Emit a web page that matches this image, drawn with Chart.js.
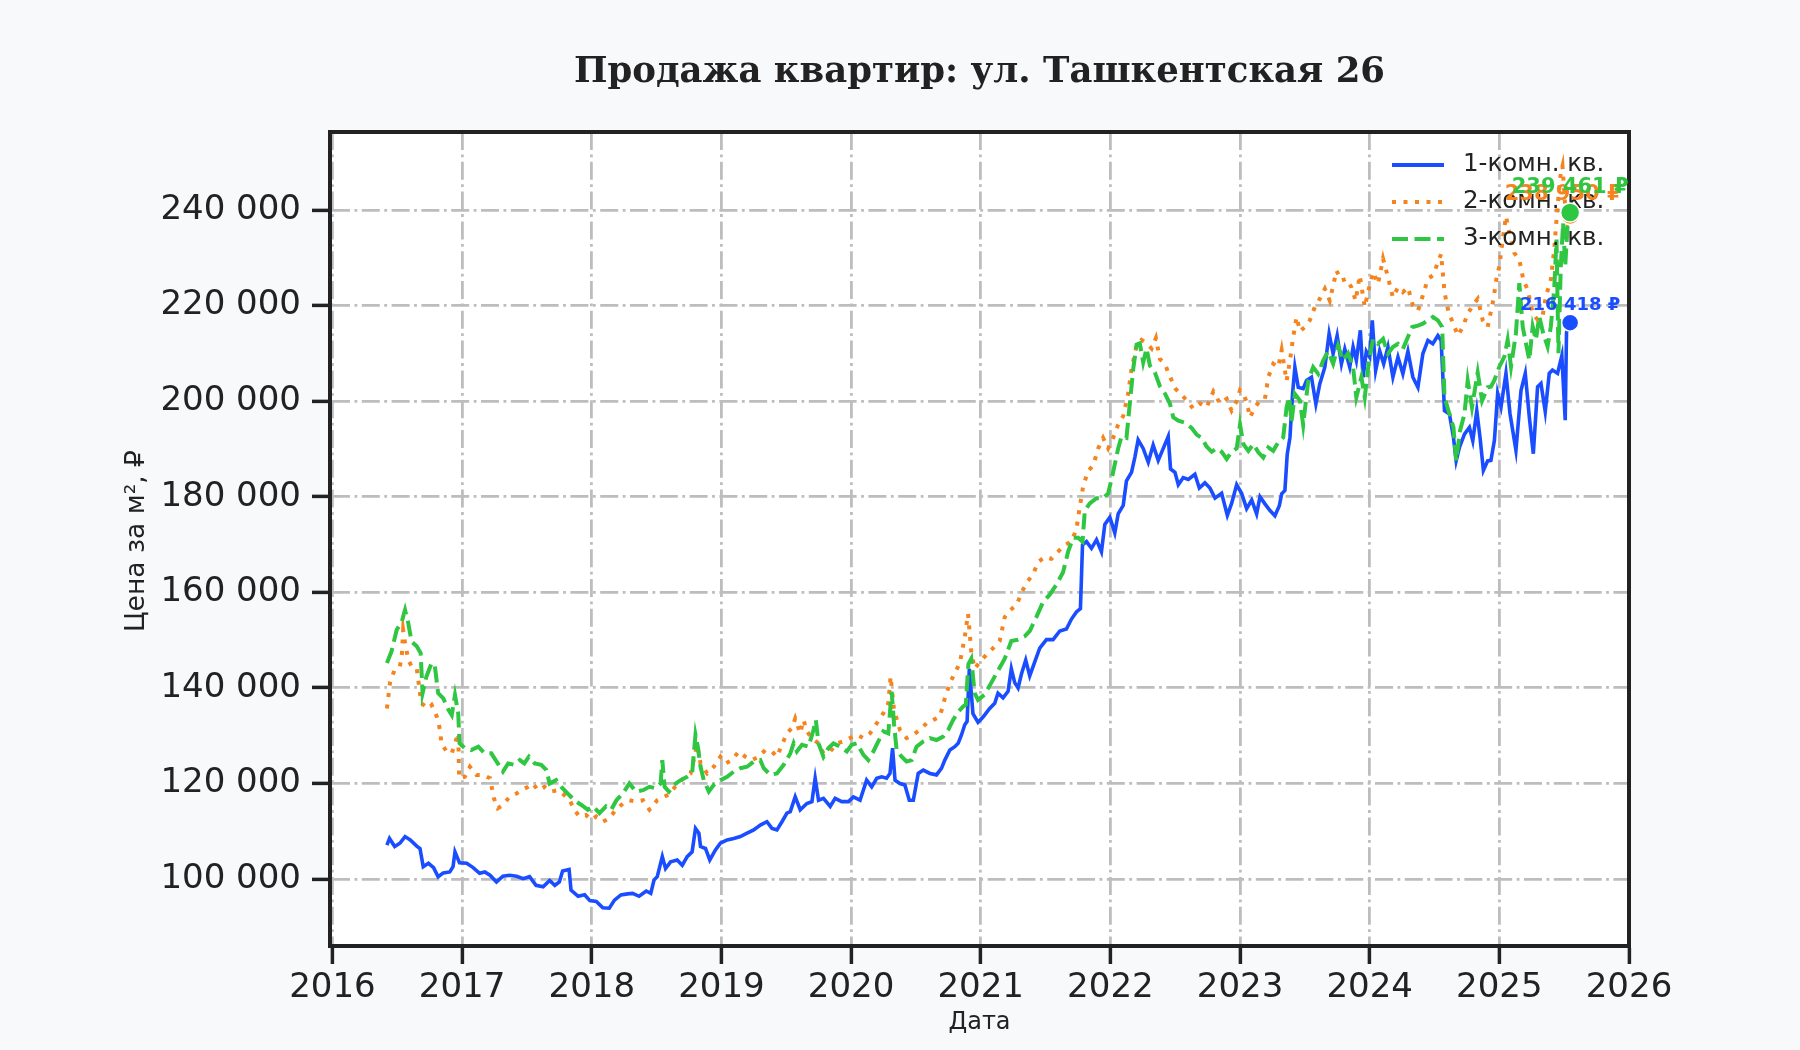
<!DOCTYPE html>
<html lang="ru">
<head>
<meta charset="utf-8">
<title>Продажа квартир: ул. Ташкентская 26</title>
<script src="https://cdn.jsdelivr.net/npm/chart.js@4.4.1/dist/chart.umd.min.js"></script>
<style>
  html, body { margin: 0; padding: 0; background: #f8f9fb; }
  #wrap { width: 1800px; height: 1050px; }
</style>
</head>
<body>
<div id="wrap"><canvas id="chart" width="1800" height="1050"></canvas></div>
<script>
// --- data: [year, price per m²] ---
const oneRoom = [
  [2016.42,107100],[2016.44,108500],[2016.48,106800],[2016.52,107500],[2016.56,108900],[2016.60,108200],
  [2016.65,106900],[2016.675,106400],[2016.70,102600],[2016.74,103300],[2016.78,102400],[2016.815,100500],
  [2016.855,101300],[2016.905,101500],[2016.93,102600],[2016.945,105700],[2016.98,103400],[2017.035,103300],
  [2017.085,102400],[2017.135,101200],[2017.175,101500],[2017.215,100800],[2017.265,99400],[2017.315,100600],
  [2017.365,100800],[2017.42,100600],[2017.47,100100],[2017.52,100500],[2017.57,98700],[2017.625,98400],
  [2017.675,99700],[2017.715,98700],[2017.75,99400],[2017.775,101700],[2017.825,102000],[2017.84,97700],
  [2017.895,96400],[2017.945,96700],[2017.985,95500],[2018.035,95300],[2018.085,94000],[2018.135,93900],
  [2018.175,95600],[2018.225,96700],[2018.275,96900],[2018.315,97000],[2018.365,96400],[2018.42,97500],
  [2018.455,97000],[2018.48,99800],[2018.505,100500],[2018.544,104700],[2018.569,102200],[2018.608,103600],
  [2018.659,104000],[2018.698,102900],[2018.736,104700],[2018.774,105700],[2018.80,110600],[2018.826,109600],
  [2018.839,106800],[2018.877,106400],[2018.91,104000],[2018.954,106100],[2018.992,107500],[2019.044,108200],
  [2019.095,108500],[2019.146,108900],[2019.198,109600],[2019.249,110300],[2019.30,111300],[2019.351,112000],
  [2019.39,110600],[2019.428,110300],[2019.467,112000],[2019.505,113800],[2019.531,114100],[2019.569,117200],
  [2019.608,114500],[2019.659,115800],[2019.698,116200],[2019.723,121100],[2019.749,116500],[2019.787,116900],
  [2019.839,115200],[2019.877,116900],[2019.928,116200],[2019.98,116200],[2020.018,117200],[2020.069,116500],
  [2020.12,120700],[2020.159,119300],[2020.198,121100],[2020.236,121400],[2020.274,121100],[2020.30,122100],
  [2020.32,127400],[2020.339,120700],[2020.377,120000],[2020.415,119700],[2020.449,116500],[2020.48,116500],
  [2020.518,122100],[2020.557,122800],[2020.608,122100],[2020.659,121800],[2020.698,123200],[2020.723,124900],
  [2020.762,127000],[2020.80,127700],[2020.826,128400],[2020.852,130200],[2020.877,132300],[2020.895,133000],
  [2020.912,144000],[2020.94,134600],[2020.979,132800],[2021.018,133900],[2021.069,135700],[2021.108,136800],
  [2021.133,138900],[2021.172,137900],[2021.211,139300],[2021.236,144000],[2021.262,141100],[2021.288,140000],
  [2021.314,142900],[2021.347,145800],[2021.378,142500],[2021.416,145400],[2021.455,148300],[2021.507,150100],
  [2021.558,150100],[2021.61,151900],[2021.661,152300],[2021.70,154400],[2021.738,155900],[2021.769,156600],
  [2021.785,169900],[2021.816,170600],[2021.854,169200],[2021.893,171000],[2021.931,168500],[2021.957,174200],
  [2021.996,175700],[2022.034,172400],[2022.06,176400],[2022.099,178200],[2022.124,183300],[2022.163,185100],
  [2022.189,188300],[2022.214,191900],[2022.253,190100],[2022.292,187200],[2022.33,190800],[2022.369,187600],
  [2022.408,190100],[2022.446,192600],[2022.464,185800],[2022.498,185100],[2022.524,182500],[2022.562,184000],
  [2022.601,183600],[2022.652,184700],[2022.686,181800],[2022.729,182900],[2022.768,181800],[2022.807,179700],
  [2022.858,180700],[2022.902,176100],[2022.935,178600],[2022.974,182500],[2023.012,180700],[2023.051,177500],
  [2023.09,179300],[2023.128,176400],[2023.154,180000],[2023.192,178500],[2023.231,177100],[2023.269,176000],
  [2023.303,178100],[2023.321,180600],[2023.346,181300],[2023.364,188900],[2023.385,192400],[2023.405,201500],
  [2023.423,207100],[2023.449,202900],[2023.487,202600],[2023.513,204300],[2023.551,205000],[2023.585,199400],
  [2023.615,203600],[2023.654,207100],[2023.687,214100],[2023.718,209900],[2023.749,213700],[2023.782,207800],
  [2023.808,210900],[2023.846,207100],[2023.872,211300],[2023.897,208500],[2023.928,214800],[2023.949,205000],
  [2023.974,210400],[2024.0,209200],[2024.02,216900],[2024.046,206400],[2024.077,210500],[2024.108,207800],
  [2024.141,211300],[2024.179,205000],[2024.218,209200],[2024.256,205700],[2024.295,210400],[2024.333,205000],
  [2024.372,202900],[2024.41,209900],[2024.449,212700],[2024.487,212000],[2024.526,213700],[2024.551,212700],
  [2024.577,198000],[2024.615,197300],[2024.646,192400],[2024.667,187500],[2024.692,190300],[2024.731,193100],
  [2024.769,194500],[2024.795,191700],[2024.826,198000],[2024.851,192400],[2024.877,185500],[2024.91,187500],
  [2024.935,187600],[2024.962,191800],[2024.987,201600],[2025.013,198800],[2025.051,205800],[2025.082,197400],
  [2025.128,189700],[2025.167,202200],[2025.2,205800],[2025.231,196700],[2025.262,189000],[2025.295,203000],
  [2025.321,203700],[2025.354,197800],[2025.385,205800],[2025.41,206500],[2025.449,205800],[2025.482,209500],
  [2025.508,196000],[2025.518,214400],[2025.546,216418]
];

const twoRoom = [
  [2016.42,135700],[2016.445,141300],[2016.48,143800],[2016.52,144500],[2016.535,146900],[2016.545,152100],
  [2016.56,149400],[2016.585,145900],[2016.61,144500],[2016.65,144100],[2016.685,136800],[2016.74,135700],
  [2016.765,136400],[2016.805,134000],[2016.83,131200],[2016.84,128400],[2016.88,126700],[2016.92,126300],
  [2016.945,128400],[2016.97,130500],[2016.977,121100],[2017.02,121400],[2017.06,123500],[2017.11,121800],
  [2017.16,121800],[2017.215,121100],[2017.245,116900],[2017.275,114800],[2017.315,115500],[2017.365,117200],
  [2017.42,117900],[2017.455,118600],[2017.51,119300],[2017.545,120000],[2017.585,118600],[2017.635,119300],
  [2017.685,118300],[2017.74,118600],[2017.775,117900],[2017.83,116500],[2017.865,114500],[2017.905,113100],
  [2017.955,113400],[2017.995,112400],[2018.035,113100],[2018.085,112000],[2018.135,112700],[2018.185,114500],
  [2018.24,115800],[2018.29,116500],[2018.34,116200],[2018.395,116500],[2018.445,114500],[2018.505,116500],
  [2018.557,117200],[2018.608,117900],[2018.659,120000],[2018.71,121100],[2018.762,122100],[2018.813,128100],
  [2018.839,124200],[2018.89,122100],[2018.941,123500],[2018.992,125600],[2019.031,124200],[2019.082,124900],
  [2019.133,126700],[2019.185,125600],[2019.236,124900],[2019.287,125600],[2019.339,127000],[2019.39,126700],
  [2019.428,125600],[2019.467,128100],[2019.505,130500],[2019.544,131600],[2019.569,133600],[2019.608,130500],
  [2019.633,133300],[2019.659,130900],[2019.698,129500],[2019.749,128400],[2019.787,126300],[2019.839,126700],
  [2019.89,128400],[2019.941,128800],[2019.992,129500],[2020.044,130200],[2020.095,129500],[2020.146,130500],
  [2020.198,132600],[2020.249,134700],[2020.287,136800],[2020.305,142400],[2020.331,135400],[2020.377,131200],
  [2020.428,129500],[2020.48,130200],[2020.531,131200],[2020.582,132600],[2020.634,133300],[2020.685,134000],
  [2020.723,137800],[2020.762,141000],[2020.80,143100],[2020.839,145200],[2020.877,150700],[2020.902,155500],
  [2020.927,147600],[2020.953,144000],[2020.992,145400],[2021.043,146900],[2021.095,148300],[2021.146,149800],
  [2021.185,154800],[2021.224,156200],[2021.275,157300],[2021.327,160600],[2021.365,162400],[2021.404,163800],
  [2021.442,166300],[2021.494,167400],[2021.545,167000],[2021.597,168500],[2021.648,169900],[2021.70,170600],
  [2021.738,173200],[2021.764,177900],[2021.79,182200],[2021.828,185400],[2021.867,186500],[2021.906,190100],
  [2021.944,192300],[2021.983,190100],[2022.021,192300],[2022.06,195100],[2022.099,196900],[2022.137,201600],
  [2022.163,206700],[2022.202,211700],[2022.24,212800],[2022.279,212100],[2022.318,211000],[2022.351,213200],
  [2022.382,208800],[2022.42,207800],[2022.459,205200],[2022.498,202700],[2022.537,201600],[2022.588,200200],
  [2022.639,198400],[2022.691,199500],[2022.742,198700],[2022.794,202000],[2022.845,199500],[2022.897,200500],
  [2022.935,198000],[2022.974,200000],[2023.0,202300],[2023.025,201600],[2023.051,199800],[2023.077,196600],
  [2023.115,198700],[2023.154,200100],[2023.192,200500],[2023.218,205000],[2023.256,207800],[2023.295,207100],
  [2023.321,210700],[2023.359,204200],[2023.385,208500],[2023.41,213400],[2023.436,217600],[2023.462,214600],
  [2023.5,215500],[2023.538,216900],[2023.577,219700],[2023.615,221400],[2023.654,223500],[2023.692,221000],
  [2023.744,227300],[2023.782,225200],[2023.821,225600],[2023.859,223800],[2023.892,221000],[2023.923,226300],
  [2023.962,219700],[2023.987,222800],[2024.026,227000],[2024.064,224500],[2024.103,229800],[2024.141,225900],
  [2024.179,221700],[2024.218,223800],[2024.256,222800],[2024.295,223800],[2024.333,220000],[2024.372,218900],
  [2024.41,222100],[2024.449,225600],[2024.487,226300],[2024.518,228400],[2024.551,230800],[2024.577,222800],
  [2024.61,218300],[2024.646,216200],[2024.679,213700],[2024.718,215500],[2024.756,218300],[2024.795,220000],
  [2024.833,221400],[2024.872,216900],[2024.91,215500],[2024.954,221200],[2024.98,226100],[2025.0,228200],
  [2025.026,233800],[2025.051,238700],[2025.082,234500],[2025.115,231000],[2025.154,229600],[2025.185,225400],
  [2025.218,223300],[2025.257,218400],[2025.295,217000],[2025.333,217700],[2025.359,221900],[2025.397,225400],
  [2025.423,231700],[2025.449,240800],[2025.474,247800],[2025.487,249200],[2025.508,240800],[2025.526,237300],
  [2025.546,238950]
];

const threeRoom = [
  [2016.42,145200],[2016.455,147600],[2016.495,152100],[2016.535,153900],[2016.56,156300],[2016.585,153500],
  [2016.61,149700],[2016.65,148700],[2016.68,147300],[2016.695,138900],[2016.725,142400],[2016.765,145200],
  [2016.79,144500],[2016.815,138900],[2016.855,137800],[2016.895,135400],[2016.92,134300],[2016.945,138500],
  [2016.97,134700],[2016.98,128400],[2017.02,127400],[2017.07,127000],[2017.125,127700],[2017.175,126300],
  [2017.225,126300],[2017.275,124200],[2017.315,122500],[2017.355,124200],[2017.405,123900],[2017.445,124900],
  [2017.48,124200],[2017.515,125600],[2017.56,124200],[2017.61,123900],[2017.65,122800],[2017.675,120000],
  [2017.725,120700],[2017.765,119300],[2017.815,117900],[2017.865,116500],[2017.92,115500],[2017.97,114500],
  [2018.01,115200],[2018.06,113800],[2018.11,115200],[2018.15,114500],[2018.19,116500],[2018.24,117900],
  [2018.29,120000],[2018.34,118300],[2018.395,118600],[2018.445,119300],[2018.492,119000],[2018.531,120000],
  [2018.544,124900],[2018.562,119300],[2018.595,118300],[2018.633,119700],[2018.685,120700],[2018.736,121400],
  [2018.774,122100],[2018.80,130200],[2018.818,127700],[2018.839,123500],[2018.864,120700],[2018.903,118300],
  [2018.941,119700],[2018.992,120700],[2019.044,121400],[2019.095,122500],[2019.146,123200],[2019.198,123500],
  [2019.249,124600],[2019.30,124900],[2019.326,123200],[2019.377,121800],[2019.428,122100],[2019.48,123900],
  [2019.531,126300],[2019.557,128400],[2019.582,126700],[2019.621,128100],[2019.672,127700],[2019.71,131200],
  [2019.728,133300],[2019.749,128400],[2019.787,125600],[2019.826,127400],[2019.864,128400],[2019.916,127700],
  [2019.967,126700],[2020.005,128100],[2020.044,128400],[2020.095,126000],[2020.133,124900],[2020.172,126700],
  [2020.21,128800],[2020.249,130900],[2020.287,130500],[2020.313,139200],[2020.331,132600],[2020.351,127000],
  [2020.39,125600],[2020.428,124600],[2020.467,124900],[2020.505,127700],[2020.557,128800],[2020.608,129500],
  [2020.659,129100],[2020.71,129800],[2020.749,131200],[2020.787,133300],[2020.826,135000],[2020.864,136100],
  [2020.885,136500],[2020.905,145000],[2020.927,146100],[2020.953,138900],[2020.979,137500],[2021.03,138600],
  [2021.082,141100],[2021.133,143600],[2021.185,146100],[2021.236,149800],[2021.288,150100],[2021.339,150800],
  [2021.378,151900],[2021.429,154800],[2021.481,158000],[2021.532,159500],[2021.584,161600],[2021.635,164200],
  [2021.674,168500],[2021.713,171400],[2021.751,171400],[2021.785,170600],[2021.803,177100],[2021.841,178600],
  [2021.893,179700],[2021.944,179700],[2021.983,180700],[2022.021,185100],[2022.06,190100],[2022.086,192600],
  [2022.124,192300],[2022.15,199500],[2022.176,206700],[2022.202,211800],[2022.227,212100],[2022.253,208100],
  [2022.279,211000],[2022.305,207400],[2022.343,206000],[2022.382,203100],[2022.42,201600],[2022.459,199500],
  [2022.485,196600],[2022.524,195900],[2022.575,195500],[2022.626,194400],[2022.665,193000],[2022.704,192300],
  [2022.742,190500],[2022.781,189400],[2022.82,190100],[2022.858,189400],[2022.897,187900],[2022.935,189400],
  [2022.974,190100],[2023.0,195100],[2023.026,191000],[2023.064,189600],[2023.103,191000],[2023.141,189300],
  [2023.179,188200],[2023.218,190300],[2023.256,189600],[2023.295,191400],[2023.333,192400],[2023.359,198700],
  [2023.379,200800],[2023.397,195700],[2023.423,201500],[2023.462,200100],[2023.487,195000],[2023.526,204300],
  [2023.564,207100],[2023.603,205700],[2023.641,208500],[2023.679,210400],[2023.718,207800],[2023.756,211600],
  [2023.795,208500],[2023.833,210000],[2023.872,207100],[2023.897,200800],[2023.936,205000],[2023.962,200800],
  [2023.995,208500],[2024.026,213000],[2024.064,212000],[2024.103,213000],[2024.141,209900],[2024.179,211300],
  [2024.218,212000],[2024.256,210900],[2024.295,213400],[2024.328,215500],[2024.372,215800],[2024.41,216200],
  [2024.449,216900],[2024.487,217600],[2024.526,216900],[2024.559,215500],[2024.577,200800],[2024.615,197300],
  [2024.646,194500],[2024.667,187500],[2024.697,193800],[2024.731,197300],[2024.756,204300],[2024.789,198700],
  [2024.833,206000],[2024.867,200100],[2024.91,202900],[2024.935,203000],[2024.962,204400],[2025.0,207200],
  [2025.039,209300],[2025.064,212800],[2025.09,207200],[2025.128,214200],[2025.154,224700],[2025.18,215600],
  [2025.205,212100],[2025.231,208600],[2025.257,215600],[2025.282,212800],[2025.308,217700],[2025.338,214200],
  [2025.372,211400],[2025.397,215600],[2025.423,223300],[2025.441,233800],[2025.456,210000],[2025.474,228200],
  [2025.492,237300],[2025.508,228200],[2025.526,236600],[2025.546,239461]
];

const yearTicks = [2016, 2017, 2018, 2019, 2020, 2021, 2022, 2023, 2024, 2025, 2026];
const priceTicks = [100000, 120000, 140000, 160000, 180000, 200000, 220000, 240000];
const seriesNames = ['1-комн. кв.', '2-комн. кв.', '3-комн. кв.'];

const BLUE = '#1a4dff', ORANGE = '#f5841f', GREEN = '#2fc641', INK = '#222222';
const GRID = '#bdbdbd';
const DOTTED = [4, 7.5], DASHED = [16, 6.5];

function fmt(v) {
  return String(Math.round(v)).replace(/\B(?=(\d{3})+(?!\d))/g, ' ');
}
function toXY(arr) { return arr.map(p => ({x: p[0], y: p[1]})); }

// фон, рамка, заголовки, легенда, подписи последних значений
const decor = {
  id: 'decor',
  beforeDraw(chart) {
    const {ctx, chartArea: a} = chart;
    ctx.save();
    ctx.fillStyle = '#f8f9fb';
    ctx.fillRect(0, 0, chart.width, chart.height);
    ctx.fillStyle = '#ffffff';
    ctx.fillRect(a.left, a.top, a.right - a.left, a.bottom - a.top);
    ctx.restore();
  },
  afterDatasetsDraw(chart) {
    const {ctx, chartArea: a} = chart;
    ctx.save();
    ctx.strokeStyle = INK;
    ctx.lineWidth = 4;
    ctx.strokeRect(a.left, a.top, a.right - a.left, a.bottom - a.top);
    ctx.restore();
  },
  afterDraw(chart) {
    const {ctx, chartArea: a} = chart;
    const xs = chart.scales.x, ys = chart.scales.y;
    ctx.save();

    // title
    ctx.fillStyle = INK;
    ctx.textAlign = 'center';
    ctx.textBaseline = 'middle';
    ctx.font = 'bold 35.5px "DejaVu Serif"';
    ctx.fillText('Продажа квартир: ул. Ташкентская 26', (a.left + a.right) / 2, 73);

    // axis titles
    ctx.font = '24px "DejaVu Sans"';
    ctx.fillText('Дата', (a.left + a.right) / 2, 1023);
    ctx.save();
    ctx.translate(137, (a.top + a.bottom) / 2 + 2);
    ctx.rotate(-Math.PI / 2);
    ctx.font = '26.5px "DejaVu Sans"';
    ctx.fillText('Цена за м², ₽', 0, 0);
    ctx.restore();

    // legend
    const leg = [
      {c: BLUE, dash: [], y: 165},
      {c: ORANGE, dash: DOTTED, y: 202},
      {c: GREEN, dash: DASHED, y: 239}
    ];
    ctx.textAlign = 'left';
    ctx.font = '24.5px "DejaVu Sans"';
    leg.forEach((e, i) => {
      ctx.save();
      ctx.strokeStyle = e.c;
      ctx.lineWidth = 4;
      ctx.setLineDash(e.dash);
      ctx.beginPath();
      ctx.moveTo(1392, e.y);
      ctx.lineTo(1444, e.y);
      ctx.stroke();
      ctx.restore();
      ctx.fillStyle = INK;
      ctx.fillText(seriesNames[i], 1463, e.y);
    });

    // last values
    const ends = [
      {d: twoRoom, c: ORANGE, r: 9.5, size: 21, dy: 20, dx: -7},
      {d: oneRoom, c: BLUE, r: 8.5, size: 18, dy: 17, dx: 0},
      {d: threeRoom, c: GREEN, r: 9.5, size: 21, dy: 25, dx: 0}
    ];
    ctx.textAlign = 'center';
    ends.forEach(e => {
      const last = e.d[e.d.length - 1];
      const px = xs.getPixelForValue(last[0]);
      const py = ys.getPixelForValue(last[1]);
      ctx.beginPath();
      ctx.arc(px, py, e.r, 0, Math.PI * 2);
      ctx.fillStyle = e.c;
      ctx.fill();
      ctx.lineWidth = 1.5;
      ctx.strokeStyle = '#ffffff';
      ctx.stroke();
      ctx.fillStyle = e.c;
      ctx.font = 'bold ' + e.size + 'px "DejaVu Sans"';
      ctx.fillText(fmt(last[1]) + ' ₽', px + e.dx, py - e.dy);
    });
    ctx.restore();
  }
};

const tickFont = {family: 'DejaVu Sans', size: 34};

new Chart(document.getElementById('chart'), {
  type: 'line',
  data: {
    datasets: [
      {label: seriesNames[2], data: toXY(threeRoom), borderColor: GREEN, borderWidth: 4,
       borderDash: DASHED, order: 0},
      {label: seriesNames[1], data: toXY(twoRoom), borderColor: ORANGE, borderWidth: 4,
       borderDash: DOTTED, order: 1},
      {label: seriesNames[0], data: toXY(oneRoom), borderColor: BLUE, borderWidth: 3.6,
       order: 2}
    ]
  },
  options: {
    responsive: false,
    devicePixelRatio: 1,
    animation: false,
    layout: { padding: {top: 132, right: 171, left: 0, bottom: 0} },
    elements: {
      point: { radius: 0, hoverRadius: 0 },
      line: { tension: 0, fill: false, borderCapStyle: 'butt', borderJoinStyle: 'miter' }
    },
    plugins: { legend: {display: false}, tooltip: {enabled: false}, title: {display: false} },
    scales: {
      x: {
        type: 'linear',
        min: 2015.981,
        max: 2026,
        afterBuildTicks: s => { s.ticks = yearTicks.map(v => ({value: v})); },
        afterFit: s => { s.height = 104; },
        grid: { color: GRID, lineWidth: 2.8, tickLength: 18, tickWidth: 3.5, tickColor: INK },
        border: { display: true, color: INK, width: 4, dash: [18, 4.5, 2.8, 4.5] },
        ticks: { font: tickFont, color: INK, padding: 4, maxRotation: 0, autoSkip: false,
                 callback: v => String(v) }
      },
      y: {
        type: 'linear',
        min: 86000,
        max: 256300,
        afterBuildTicks: s => { s.ticks = priceTicks.map(v => ({value: v})); },
        afterFit: s => { s.width = 330; },
        grid: { color: GRID, lineWidth: 2.8, tickLength: 18, tickWidth: 3.5, tickColor: INK },
        border: { display: true, color: INK, width: 4, dash: [18, 4.5, 2.8, 4.5] },
        ticks: { font: tickFont, color: INK, padding: 11, autoSkip: false, callback: v => fmt(v) }
      }
    }
  },
  plugins: [decor]
});
</script>
</body>
</html>
